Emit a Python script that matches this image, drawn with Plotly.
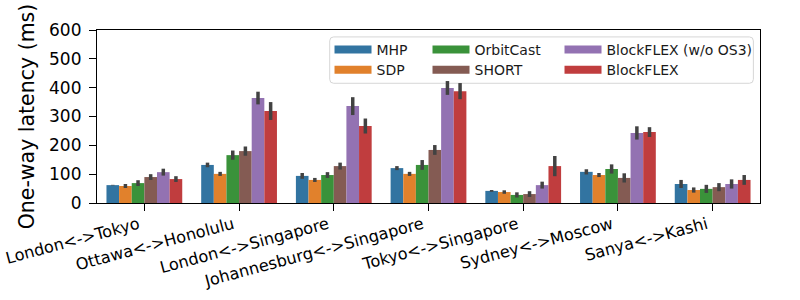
import plotly.graph_objects as go

categories = ["London<->Tokyo", "Ottawa<->Honolulu", "London<->Singapore",
              "Johannesburg<->Singapore", "Tokyo<->Singapore", "Sydney<->Moscow", "Sanya<->Kashi"]
series_names = ["MHP", "SDP", "OrbitCast", "SHORT", "BlockFLEX (w/o OS3)", "BlockFLEX"]
mhp = [62, 132, 94, 121, 42, 108, 66]
sdp = [59, 101, 80, 101, 38, 97, 45]
orbitcast = [69, 166, 97, 132, 28, 118, 49]
short = [90, 180, 128, 184, 31, 87, 55]
blockflex_wo = [107, 364, 336, 399, 62, 243, 66]
blockflex = [83, 319, 267, 388, 128, 246, 80]
mhp_err = [1, 8, 10, 7, 3, 9, 14]
sdp_err = [7, 7, 7, 7, 6, 7, 9]
orbitcast_err = [10, 16, 10, 17, 9, 16, 14]
short_err = [10, 16, 12, 17, 10, 16, 14]
blockflex_wo_err = [12, 22, 31, 24, 12, 23, 16]
blockflex_err = [10, 31, 26, 28, 35, 17, 17]

values = [mhp, sdp, orbitcast, short, blockflex_wo, blockflex]
errors = [mhp_err, sdp_err, orbitcast_err, short_err, blockflex_wo_err, blockflex_err]
colors = ["#3274a1", "#e1812c", "#3a923a", "#845b53", "#9372b2", "#c03d3e"]
# legend layout: 3 columns x 2 rows, column-major like the reference
legend_ids = ["legend", "legend2", "legend3", "legend4", "legend5", "legend6"]
leg_x = [0.3507, 0.3507, 0.4985, 0.4985, 0.6976, 0.6976]
leg_y = [0.977, 0.861, 0.977, 0.861, 0.977, 0.861]

fig = go.Figure()
for name, v, e, c in zip(series_names, values, errors, colors):
    fig.add_trace(go.Bar(
        x=categories, y=v, name=name, marker_color=c, marker_line_width=0,
        error_y=dict(type="data", array=e, color="#424242", thickness=3.5, width=0),
        showlegend=False,
    ))
for name, c, lg in zip(series_names, colors, legend_ids):
    fig.add_trace(go.Scatter(
        x=[None], y=[None], mode="lines", name=name,
        line=dict(color=c, width=8), legend=lg, showlegend=True,
    ))

font = "DejaVu Sans"
legends = {}
for lg, lx, ly in zip(legend_ids, leg_x, leg_y):
    legends[lg] = dict(bgcolor="rgba(0,0,0,0)", borderwidth=0,
                       font=dict(family=font, size=14, color="#1a1a1a"),
                       yanchor="top", y=ly, xanchor="left", x=lx, itemwidth=37)

# rounded legend frame (paper coords)
x0, x1, y0, y1 = 0.351, 0.990, 0.692, 0.960
rx, ry = 0.006, 0.023
frame = (f"M{x0+rx},{y0} L{x1-rx},{y0} Q{x1},{y0} {x1},{y0+ry} L{x1},{y1-ry} Q{x1},{y1} {x1-rx},{y1} "
         f"L{x0+rx},{y1} Q{x0},{y1} {x0},{y1-ry} L{x0},{y0+ry} Q{x0},{y0} {x0+rx},{y0} Z")

fig.update_layout(
    width=800, height=300,
    margin=dict(l=97, r=40, t=30, b=97, autoexpand=False),
    plot_bgcolor="white", paper_bgcolor="white",
    barmode="group", bargap=0.2, bargroupgap=0,
    font=dict(family=font, color="black"),
    xaxis=dict(
        showline=True, linecolor="black", linewidth=1.2, mirror=True, automargin=False,
        ticks="outside", ticklen=7, tickcolor="black", tickangle=-15,
        ticklabelshift=-6, ticklabelstandoff=-2,
        tickfont=dict(family=font, size=16.2, color="black"), showgrid=False,
    ),
    yaxis=dict(
        range=[0, 600], tickvals=[0, 100, 200, 300, 400, 500, 600], automargin=False,
        showline=True, linecolor="black", linewidth=1.2, mirror=True,
        ticks="outside", ticklen=7, tickcolor="black", ticklabelstandoff=4,
        tickfont=dict(family=font, size=17, color="black"), showgrid=False,
        title=dict(text="One-way latency (ms)", font=dict(family=font, size=20.5, color="black"), standoff=8),
        zeroline=False,
    ),
    shapes=[dict(type="path", xref="paper", yref="paper", path=frame,
                 line=dict(color="#d6d6d6", width=1), fillcolor="rgba(255,255,255,0.8)", layer="below")],
    **legends,
)
fig.write_html("out.html", config={"displayModeBar": False},
               post_script="document.body.style.margin='0';document.body.style.padding='0';")
